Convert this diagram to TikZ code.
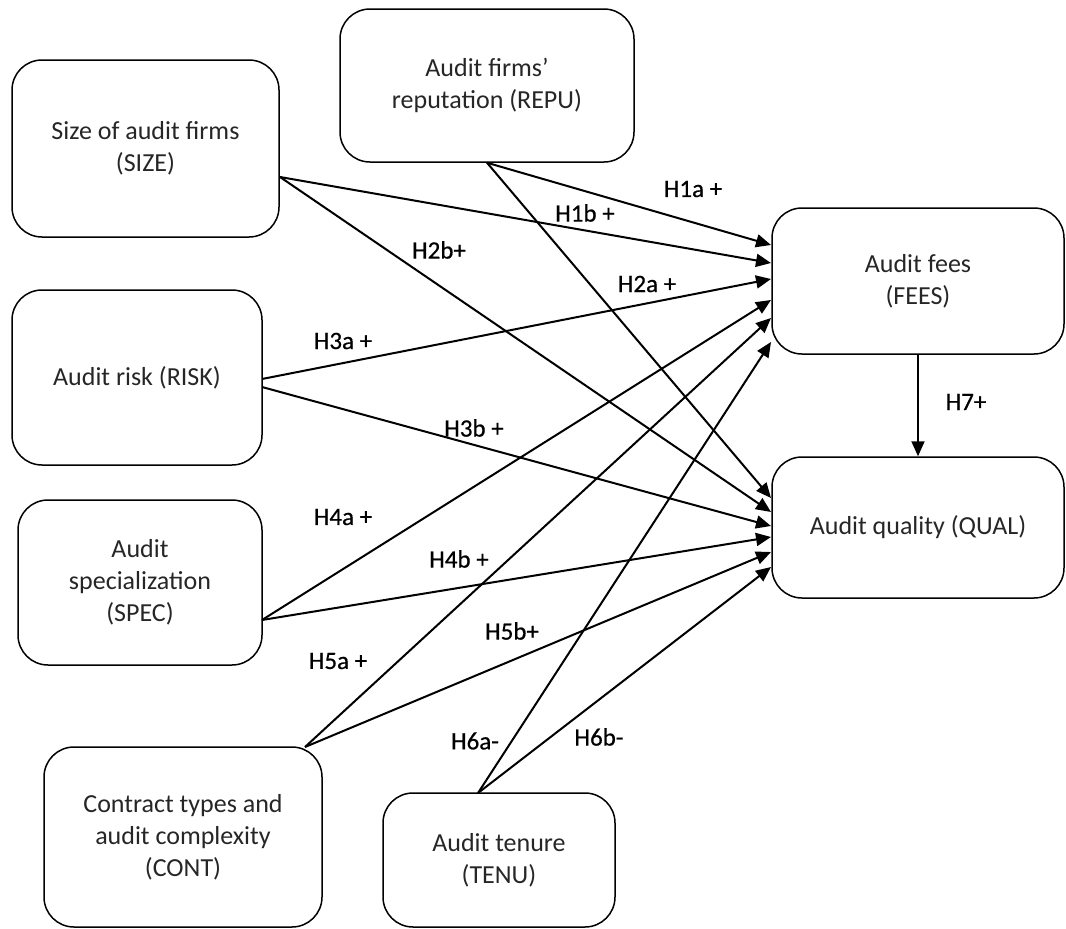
\documentclass[tikz,border=0pt]{standalone}
\usepackage{fontspec}
\setmainfont{Carlito}
\newfontfamily\lblfont[FakeBold=0.5]{Carlito}
\usetikzlibrary{arrows.meta}
\begin{document}
\begin{tikzpicture}[x=1pt,y=-1pt,
  box/.style={draw, line width=1.5pt, rounded corners=30pt, align=center, text=black!85,
              font=\fontsize{26}{32}\selectfont, inner sep=0pt},
  conn/.style={line width=2pt, -{Triangle[length=15pt,width=13pt]}},
  lbl/.style={font=\lblfont\fontsize{25}{30}\selectfont, inner sep=0pt}]
\useasboundingbox (0,0) rectangle (1066,929);

% boxes
\node[box, minimum width=267pt, minimum height=177pt] (size) at (145.5,148.5) {Size of audit firms\\(SIZE)};
\node[box, minimum width=294pt, minimum height=153pt] (repu) at (487,85.5) {Audit firms’\\reputation (REPU)};
\node[box, minimum width=250pt, minimum height=175pt] (risk) at (137,377.5) {Audit risk (RISK)};
\node[box, minimum width=244pt, minimum height=165pt] (spec) at (140,582.5) {Audit\\specialization\\(SPEC)};
\node[box, minimum width=278pt, minimum height=180pt] (cont) at (183,837) {Contract types and\\audit complexity\\(CONT)};
\node[box, minimum width=232pt, minimum height=134pt] (tenu) at (499,860) {Audit tenure\\(TENU)};
\node[box, minimum width=292pt, minimum height=146pt] (fees) at (918,281) {Audit fees\\(FEES)};
\node[box, minimum width=292pt, minimum height=141pt] (qual) at (918,527.5) {Audit quality (QUAL)};

% connector end points
\coordinate (oSize) at (280,177);
\coordinate (oRiskA) at (262,379);
\coordinate (oRiskB) at (262,387);
\coordinate (oSpec) at (262,620);
\coordinate (oCont) at (305,747);
\coordinate (oTenu) at (478,793);

\coordinate (f1) at (771,245);
\coordinate (f2) at (771,263);
\coordinate (f3) at (771,279);
\coordinate (f4) at (771,300);
\coordinate (f5) at (771,318);
\coordinate (f6) at (771,342);

\coordinate (q1) at (771,498);
\coordinate (q2) at (771,512);
\coordinate (q3) at (771,526);
\coordinate (q4) at (771,537);
\coordinate (q5) at (771,552);
\coordinate (q6) at (771,567);

% connectors to FEES
\draw[conn] (repu.south) -- (f1);
\draw[conn] (oSize) -- (f2);
\draw[conn] (oRiskA) -- (f3);
\draw[conn] (oSpec) -- (f4);
\draw[conn] (oCont) -- (f5);
\draw[conn] (oTenu) -- (f6);

% connectors to QUAL
\draw[conn] (repu.south) -- (q1);
\draw[conn] (oSize) -- (q2);
\draw[conn] (oRiskB) -- (q3);
\draw[conn] (oSpec) -- (q4);
\draw[conn] (oCont) -- (q5);
\draw[conn] (oTenu) -- (q6);

% FEES -> QUAL
\draw[conn] (fees.south) -- (qual.north);

% labels
\node[lbl] (l1a) at (693,189) {H1a +};
\node[lbl] (l1b) at (585,213) {H1b +};
\node[lbl] (l2a) at (647,284) {H2a +};
\node[lbl] (l2b) at (439,250) {H2b+};
\node[lbl] (l3a) at (343,341) {H3a +};
\node[lbl] (l3b) at (474,428) {H3b +};
\node[lbl] (l4a) at (343,517) {H4a +};
\node[lbl] (l4b) at (459,559) {H4b +};
\node[lbl] (l5a) at (338,661) {H5a +};
\node[lbl] (l5b) at (512,631) {H5b+};
\node[lbl] (l6a) at (475,741) {H6a-};
\node[lbl] (l6b) at (599,737) {H6b-};
\node[lbl] (l7) at (966,402) {H7+};
\end{tikzpicture}
\end{document}
